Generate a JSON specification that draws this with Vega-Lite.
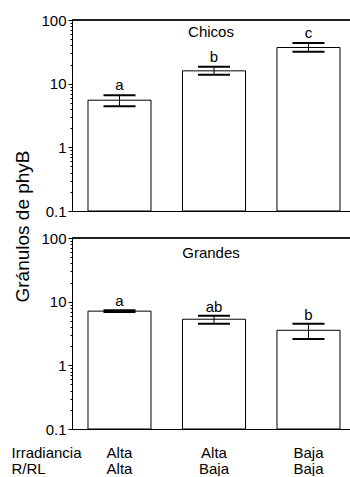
{
  "$schema": "https://vega.github.io/schema/vega-lite/v6.json",
  "padding": {"left": 11, "top": 13, "right": 0, "bottom": 0},
  "bounds": "flush",
  "spacing": 27,
  "config": {
    "view": {"stroke": null},
    "font": "Liberation Sans",
    "axis": {"grid": false, "domainColor": "black", "tickColor": "black", "labelColor": "black", "titleColor": "black", "labelFontSize": 15, "titleFontWeight": "normal"},
    "title": {"color": "black", "fontWeight": "normal", "fontSize": 15}
  },
  "datasets": {
    "d": [
      {"panel": "Chicos", "grupo": "Alta|Alta", "media": 5.5, "inf": 4.4, "sup": 6.6, "letra": "a"},
      {"panel": "Chicos", "grupo": "Alta|Baja", "media": 15.9, "inf": 13.8, "sup": 18.4, "letra": "b"},
      {"panel": "Chicos", "grupo": "Baja|Baja", "media": 37.0, "inf": 31.7, "sup": 43.4, "letra": "c"},
      {"panel": "Grandes", "grupo": "Alta|Alta", "media": 7.1, "inf": 6.9, "sup": 7.3, "letra": "a"},
      {"panel": "Grandes", "grupo": "Alta|Baja", "media": 5.3, "inf": 4.5, "sup": 6.0, "letra": "ab"},
      {"panel": "Grandes", "grupo": "Baja|Baja", "media": 3.55, "inf": 2.6, "sup": 4.5, "letra": "b"}
    ]
  },
  "vconcat": [
    {
      "width": 278,
      "height": 191,
      "title": {"text": "Chicos", "orient": "top", "anchor": "middle", "frame": "group", "baseline": "top", "offset": -18, "dy": 9},
      "data": {"name": "d"},
      "transform": [{"filter": "datum.panel === 'Chicos'"}],
      "layer": [
        {
          "mark": {"type": "bar", "fill": "white", "stroke": "black", "strokeWidth": 1},
          "encoding": {
            "x": {"field": "grupo", "type": "nominal", "sort": null,
              "scale": {"type": "band", "paddingInner": 0.333, "paddingOuter": 0.1376, "align": 0.615},
              "axis": {"labels": false, "ticks": false, "tickSize": 0, "title": null}},
            "y": {"field": "media", "type": "quantitative",
              "scale": {"type": "log", "domain": [0.1, 100], "nice": false},
              "axis": {
                "values": [0.1,0.2,0.3,0.4,0.5,0.6,0.7,0.8,0.9,1,2,3,4,5,6,7,8,9,10,20,30,40,50,60,70,80,90,100],
                "labelExpr": "abs(log(datum.value)/LN10 - round(log(datum.value)/LN10)) < 0.001 ? format(datum.value, '~g') : ''",
                "tickSize": {"condition": {"test": "abs(log(datum.value)/LN10 - round(log(datum.value)/LN10)) < 0.001", "value": 4}, "value": 2},
                "labelPadding": 2,
                "title": "Gránulos de phyB",
                "titleFontSize": 19,
                "titleAngle": -90,
                "titleX": -44,
                "titleY": 206,
                "titleAlign": "center",
                "titleBaseline": "alphabetic"
              }},
            "y2": {"datum": 0.1}
          }
        },
        {
          "mark": {"type": "rule", "color": "black", "strokeWidth": 1},
          "encoding": {"x": {"field": "grupo", "type": "nominal", "sort": null}, "y": {"field": "inf", "type": "quantitative"}, "y2": {"field": "sup"}}
        },
        {
          "mark": {"type": "tick", "color": "black", "opacity": 1, "size": 32, "thickness": 2},
          "encoding": {"x": {"field": "grupo", "type": "nominal", "sort": null}, "y": {"field": "inf", "type": "quantitative"}}
        },
        {
          "mark": {"type": "tick", "color": "black", "opacity": 1, "size": 32, "thickness": 2},
          "encoding": {"x": {"field": "grupo", "type": "nominal", "sort": null}, "y": {"field": "sup", "type": "quantitative"}}
        },
        {
          "mark": {"type": "text", "baseline": "alphabetic", "dy": -5, "fontSize": 15, "color": "black"},
          "encoding": {"x": {"field": "grupo", "type": "nominal", "sort": null}, "y": {"field": "sup", "type": "quantitative"}, "text": {"field": "letra"}}
        },
        {
          "mark": {"type": "rule", "color": "black", "strokeWidth": 1},
          "encoding": {"y": {"datum": 100, "type": "quantitative"}}
        }
      ]
    },
    {
      "width": 278,
      "height": 191,
      "title": {"text": "Grandes", "orient": "top", "anchor": "middle", "frame": "group", "baseline": "top", "offset": -22, "dy": 8},
      "data": {"name": "d"},
      "transform": [{"filter": "datum.panel === 'Grandes'"}],
      "layer": [
        {
          "mark": {"type": "bar", "fill": "white", "stroke": "black", "strokeWidth": 1},
          "encoding": {
            "x": {"field": "grupo", "type": "nominal", "sort": null,
              "scale": {"type": "band", "paddingInner": 0.333, "paddingOuter": 0.1376, "align": 0.615},
              "axis": {
                "ticks": false, "tickSize": 0, "labelAngle": 0,
                "labelExpr": "split(datum.label, '|')",
                "labelPadding": 28, "labelBaseline": "alphabetic", "labelLineHeight": 16,
                "title": ["Irradiancia", "R/RL"],
                "titleFontSize": 15, "titleLineHeight": 16,
                "titleX": -61, "titleY": 28, "titleAlign": "left", "titleBaseline": "alphabetic"
              }},
            "y": {"field": "media", "type": "quantitative",
              "scale": {"type": "log", "domain": [0.1, 100], "nice": false},
              "axis": {
                "values": [0.1,0.2,0.3,0.4,0.5,0.6,0.7,0.8,0.9,1,2,3,4,5,6,7,8,9,10,20,30,40,50,60,70,80,90,100],
                "labelExpr": "abs(log(datum.value)/LN10 - round(log(datum.value)/LN10)) < 0.001 ? format(datum.value, '~g') : ''",
                "tickSize": {"condition": {"test": "abs(log(datum.value)/LN10 - round(log(datum.value)/LN10)) < 0.001", "value": 4}, "value": 2},
                "labelPadding": 2,
                "title": null
              }},
            "y2": {"datum": 0.1}
          }
        },
        {
          "mark": {"type": "rule", "color": "black", "strokeWidth": 1},
          "encoding": {"x": {"field": "grupo", "type": "nominal", "sort": null}, "y": {"field": "inf", "type": "quantitative"}, "y2": {"field": "sup"}}
        },
        {
          "mark": {"type": "tick", "color": "black", "opacity": 1, "size": 32, "thickness": 2},
          "encoding": {"x": {"field": "grupo", "type": "nominal", "sort": null}, "y": {"field": "inf", "type": "quantitative"}}
        },
        {
          "mark": {"type": "tick", "color": "black", "opacity": 1, "size": 32, "thickness": 2},
          "encoding": {"x": {"field": "grupo", "type": "nominal", "sort": null}, "y": {"field": "sup", "type": "quantitative"}}
        },
        {
          "mark": {"type": "text", "baseline": "alphabetic", "dy": -4, "fontSize": 15, "color": "black"},
          "encoding": {"x": {"field": "grupo", "type": "nominal", "sort": null}, "y": {"field": "sup", "type": "quantitative"}, "text": {"field": "letra"}}
        },
        {
          "mark": {"type": "rule", "color": "black", "strokeWidth": 1},
          "encoding": {"y": {"datum": 100, "type": "quantitative"}}
        }
      ]
    }
  ]
}
